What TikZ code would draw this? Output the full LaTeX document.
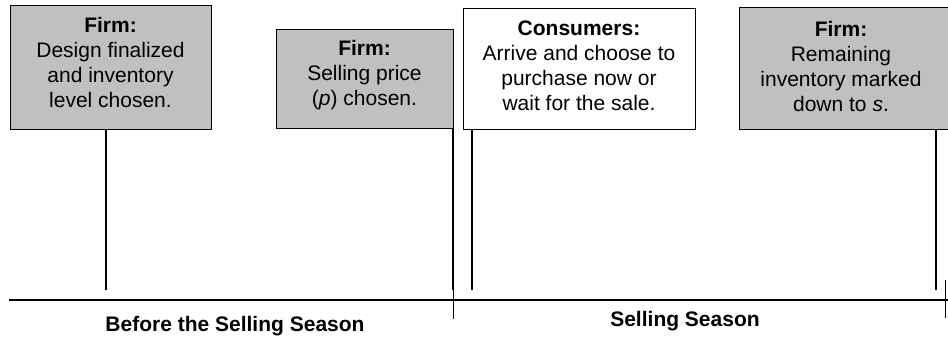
\documentclass[tikz,border=0pt]{standalone}
\usepackage{fontspec}
\setmainfont{Liberation Sans}
\definecolor{boxgray}{HTML}{C0C0C0}
\begin{document}
\begin{tikzpicture}[x=1pt,y=-1pt,
  graybox/.style={fill=boxgray,draw=black,line width=0.9pt,inner sep=0pt},
  whitebox/.style={fill=white,draw=black,line width=0.9pt,inner sep=0pt},
  txt/.style={align=center,inner sep=0pt,anchor=north,font=\fontsize{21}{25}\selectfont},
  lbl/.style={inner sep=0pt,anchor=base,font=\fontsize{21}{25}\selectfont\bfseries},
  stick/.style={line width=2.6pt},
  axisline/.style={line width=2.8pt},
  tickline/.style={line width=0.9pt}]
\useasboundingbox (0,0) rectangle (948,337);
\clip (0,0) rectangle (948,337);
\fill[white] (0,0) rectangle (948,337);

% boxes
\node[graybox,minimum width=201pt,minimum height=124pt,anchor=north west] (b1) at (10,5) {};
\node[graybox,minimum width=177pt,minimum height=99pt,anchor=north west] (b2) at (276,29) {};
\node[whitebox,minimum width=232pt,minimum height=121pt,anchor=north west] (b3) at (463,8) {};
\node[graybox,minimum width=225pt,minimum height=122pt,anchor=north west] (b4) at (739,7) {};

% texts
\node[txt] (t1) at (110.5,17) {\textbf{Firm:}\\Design finalized\\and inventory\\level chosen.};
\node[txt] (t2) at (364.5,40) {\textbf{Firm:}\\Selling price\\(\textit{p}) chosen.};
\node[txt] (t3) at (579,21) {\textbf{Consumers:}\\Arrive and choose to\\purchase now or\\wait for the sale.};
\node[txt] (t4) at (841,21) {\textbf{Firm:}\\Remaining\\inventory marked\\down to \textit{s}.};

% axis points
\coordinate (s1) at (106,290);
\coordinate (s2) at (453,290);
\coordinate (s3) at (472,290);
\coordinate (s4) at (936,290);
\coordinate (a0) at (9,300);
\coordinate (a1) at (948,300);
\coordinate (k1a) at (453,290);
\coordinate (k1b) at (453,319);
\coordinate (k2a) at (945,280);
\coordinate (k2b) at (945,318);

% sticks
\draw[stick] (b1.south -| s1) -- (s1);
\draw[stick] (b2.south -| s2) -- (s2);
\draw[stick] (b3.south -| s3) -- (s3);
\draw[stick] (b4.south -| s4) -- (s4);

% axis and ticks
\draw[axisline] (a0) -- (a1);
\draw[tickline] (k1a) -- (k1b);
\draw[tickline] (k2a) -- (k2b);

% labels
\node[lbl] (l1) at (235,331) {Before the Selling Season};
\node[lbl] (l2) at (685,326) {Selling Season};
\end{tikzpicture}
\end{document}
